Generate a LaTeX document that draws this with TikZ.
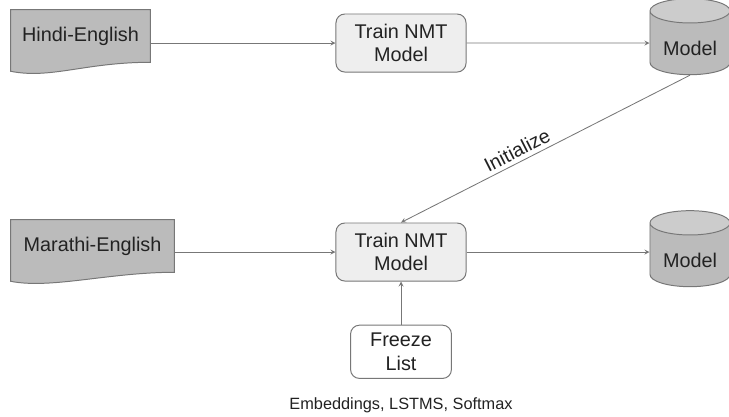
\documentclass[tikz,border=0pt]{standalone}
\usepackage{fontspec}
\setmainfont{Liberation Sans}
\usepackage{tikz}
\usetikzlibrary{shapes.geometric, arrows, positioning, calc, backgrounds}
\definecolor{linegray}{HTML}{777777}
\definecolor{textgray}{HTML}{222222}
\definecolor{docgray}{HTML}{BBBBBB}
\definecolor{trainfill}{HTML}{EEEEEE}
\definecolor{cylend}{HTML}{CCCCCC}
\tikzstyle{arrow} = [draw=linegray,->,>=stealth,line width=0.6pt]

% wavy lower edge of a document box, drawn behind its node
\newcommand{\docwave}[1]{
  \begin{scope}[on background layer]
    \draw [draw=linegray, fill=docgray, line width=0.7pt] (#1.south east) .. controls +(-65,0) and +(40,8) .. ($(#1.south west)+(0,9)$) -- (#1.north west) -- (#1.north east) -- cycle;
  \end{scope}
}

\begin{document}
\begin{tikzpicture}[
        x=0.025cm, y=-0.025cm,
        every node/.style={text=textgray, font=\fontsize{14.1}{16.5}\selectfont, align=center, inner sep=0pt},
        doc/.style={minimum height=1.3cm},
        train/.style={draw=linegray, fill=trainfill, rounded corners=0.22cm, minimum width=3.25cm, minimum height=1.45cm, line width=0.7pt},
        freeze/.style={draw=linegray, fill=white, rounded corners=0.22cm, minimum width=2.52cm, minimum height=1.33cm, line width=0.7pt},
        model/.style={cylinder, shape border rotate=90, shape aspect=0.45, draw=linegray, cylinder uses custom fill, cylinder body fill=docgray, cylinder end fill=cylend, minimum width=2cm, minimum height=1.9cm, line width=0.7pt}
      ]
        \useasboundingbox (0,0) rectangle (729,416);

        % Hindi row
        \node (hindi) [doc, minimum width=3.475cm] at (80.5,36) {Hindi-English};
        \node (train_a) [train] at (401,43) {Train NMT\\Model};
        \node (model_a) [model] at (690,43) {\raisebox{0pt}[0.6cm][0pt]{Model}};

        % Marathi row
        \node (marathi) [doc, minimum width=4.075cm] at (92.5,246) {Marathi-English};
        \node (train_b) [train] at (401,252) {Train NMT\\Model};
        \node (model_b) [model] at (690,255) {\raisebox{0pt}[0.6cm][0pt]{Model}};

        \node (freeze_list) [freeze, below=1.08cm of train_b] {Freeze\\List};
        \node (freeze_items) [below=0.45cm of freeze_list, font=\fontsize{11.6}{14}\selectfont] {Embeddings, LSTMS, Softmax};

        \docwave{hindi}
        \docwave{marathi}

        % Arrows
        \draw [arrow] (hindi.east |- train_a.west) -- (train_a.west);
        \draw [arrow] (train_a.east) -- (model_a.west);
        \draw [arrow] (marathi.east |- train_b.west) -- (train_b.west);
        \draw [arrow] (train_b.east) -- (model_b.west |- train_b.east);
        \draw [arrow] (freeze_list.north) -- (train_b.south);
        \draw [arrow] (model_a.south) -- node (init_label) [sloped, above=0.1cm, pos=0.58, font=\fontsize{14}{16}\selectfont] {Initialize} (train_b.north);
      \end{tikzpicture}
\end{document}
